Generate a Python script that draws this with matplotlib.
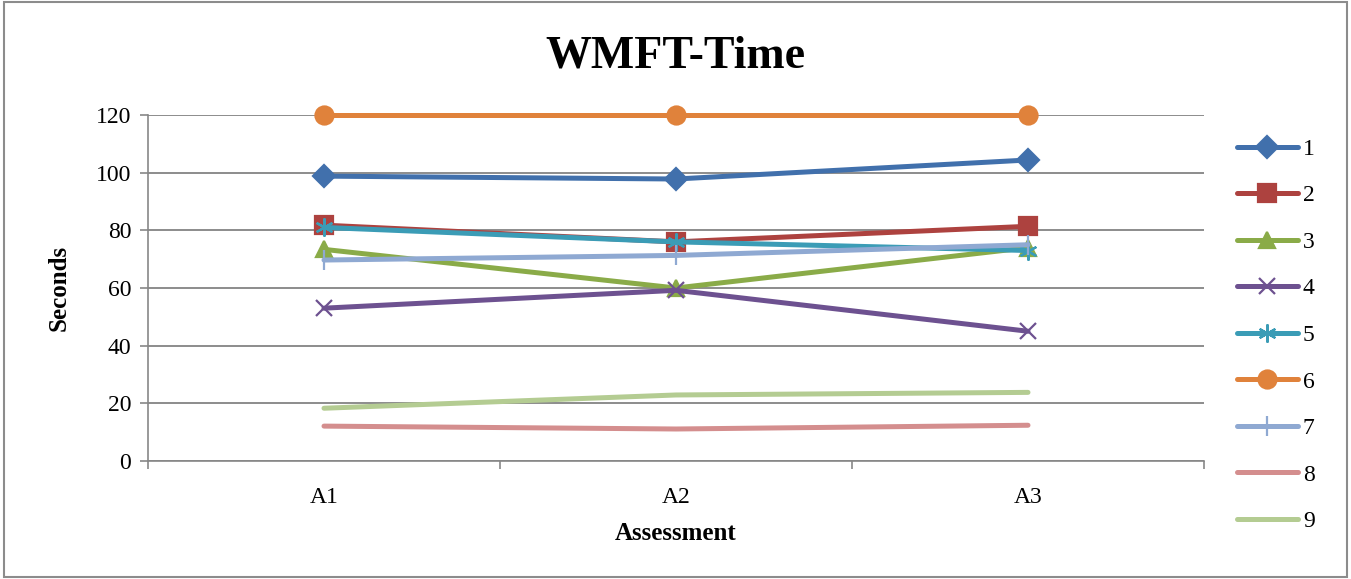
import numpy as np
import matplotlib
matplotlib.use("Agg")
import matplotlib.pyplot as plt

# data
assessments = ["A1", "A2", "A3"]
s1 = [98.8, 97.8, 104.4]
s2 = [81.8, 76.0, 81.4]
s3 = [73.4, 60.0, 74.0]
s4 = [53.0, 59.2, 45.0]
s5 = [81.0, 76.0, 73.0]
s6 = [120, 120, 120]
s7 = [69.7, 71.3, 75.0]
s8 = [12.1, 11.1, 12.4]
s9 = [18.3, 22.9, 23.8]

series = [s1, s2, s3, s4, s5, s6, s7, s8, s9]
names = ["1", "2", "3", "4", "5", "6", "7", "8", "9"]
colors = ["#4170AC", "#AD423F", "#8AAB48", "#6D5190", "#3B9CB6",
          "#E0823B", "#8FA9D2", "#D48E8E", "#B4CC92"]
markers = ["D", "s", "^", "x", (6, 2, 0), "o", "|", None, None]
msizes = [11, 13, 12, 12, 13, 13, 14, 0, 0]

plt.rcParams['font.family'] = ['Liberation Serif', 'DejaVu Serif']

fig = plt.figure(figsize=(13.51, 5.79), dpi=100)
ax = fig.add_axes([148/1351, 1 - 461/579, (1204 - 148)/1351, (461 - 115)/579])

x = np.arange(len(assessments))
for vals, name, c, m, ms in zip(series, names, colors, markers, msizes):
    ax.plot(x, vals, color=c, lw=3.6, marker=m, markersize=ms,
            markeredgewidth=1.6, label=name, solid_capstyle='round',
            clip_on=False)

ax.set_xlim(-0.5, 2.5)
ax.set_ylim(0, 120)
ax.set_yticks(np.arange(0, 121, 20))
ax.set_xticks(x)
ax.set_xticklabels(assessments)
ax.set_xticks([-0.5, 0.5, 1.5, 2.5], minor=True)
ax.tick_params(axis='x', which='major', length=0, pad=19, labelsize=17)
ax.tick_params(axis='x', which='minor', length=6, width=1.2, color='#878787')
ax.tick_params(axis='y', length=6, width=1.2, color='#878787', labelsize=17, pad=6)
ax.yaxis.grid(True, color='#8C8C8C', lw=1.4)
ax.set_axisbelow(True)
for side in ['top', 'right']:
    ax.spines[side].set_visible(False)
ax.spines['left'].set_color('#878787')
ax.spines['bottom'].set_color('#878787')
ax.spines['left'].set_linewidth(1.2)
ax.spines['bottom'].set_linewidth(1.2)

ax.set_ylabel("Seconds", fontsize=18, fontweight='bold', labelpad=18)
ax.set_xlabel("Assessment", fontsize=18, fontweight='bold', labelpad=10)
fig.text(0.5, 1 - 56/579, "WMFT-Time", ha='center', va='center',
         fontsize=33, fontweight='bold')

leg = ax.legend(loc='upper left', bbox_to_anchor=(1.022, 0.96), frameon=False,
                fontsize=17, handlelength=2.6, labelspacing=1.06,
                handletextpad=0.2, borderaxespad=0)

fig.patches.append(plt.Rectangle((0.003, 0.004), 0.994, 0.992, transform=fig.transFigure,
                                 fill=False, edgecolor='#8C8C8C', lw=1.5))

fig.savefig("out.png", dpi=100)
